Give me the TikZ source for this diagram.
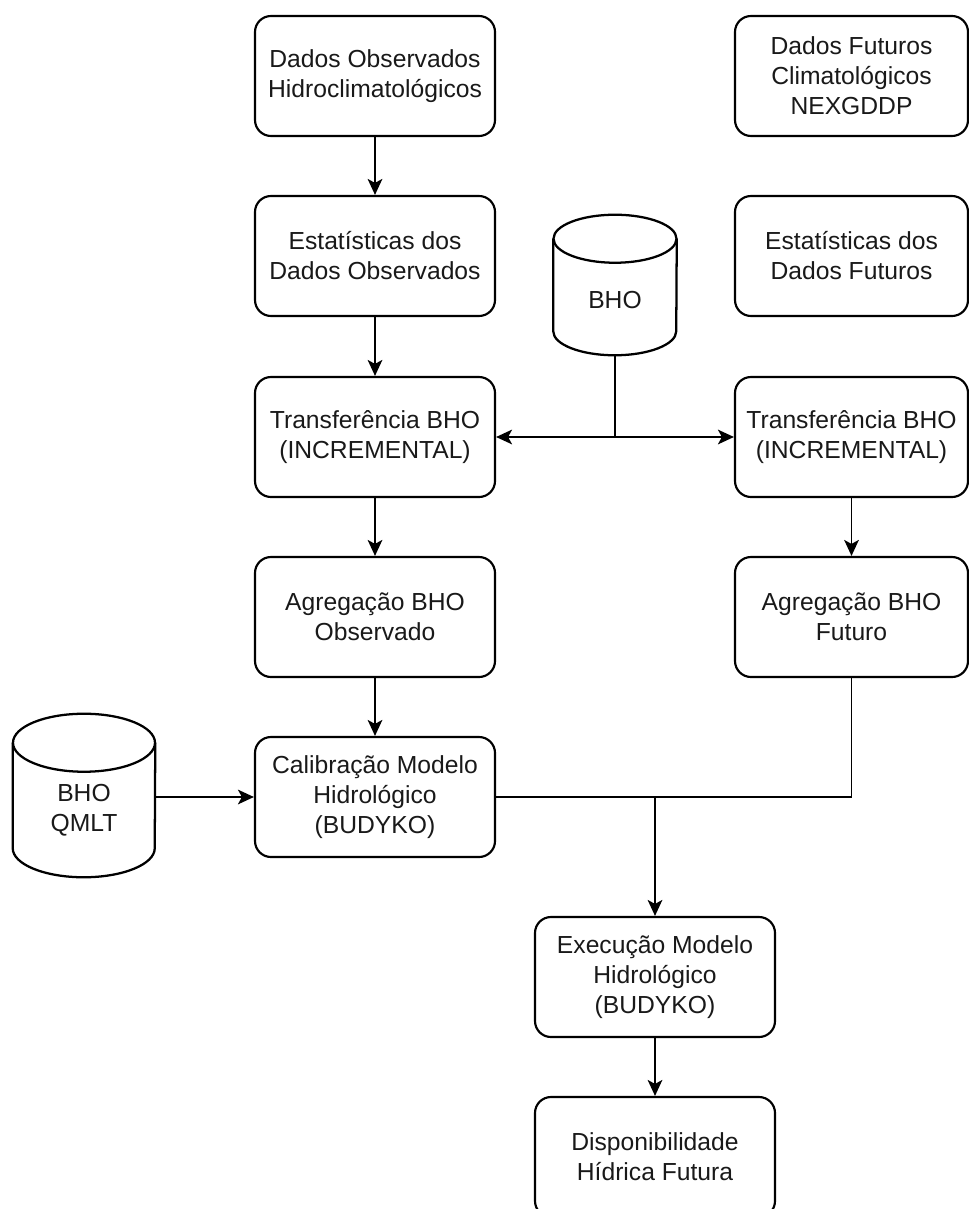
\documentclass[tikz,border=0pt]{standalone}
\usepackage{fontspec}
\setmainfont{Liberation Sans}
\usetikzlibrary{arrows.meta,calc,positioning}

\begin{document}
\begin{tikzpicture}[x=0.75pt,y=-0.75pt,>={Stealth[length=12pt,width=11pt,inset=3pt]},
    font=\fontsize{18.5}{22.5}\selectfont, text=black!90,
    proc/.style={draw=black, line width=1.6pt, rounded corners=12pt, align=center,
      minimum width=180pt, minimum height=90pt, inner sep=0pt},
    procr/.style={proc, minimum width=174.75pt},
    db/.style={minimum width=#1, inner sep=0pt},
    cyl/.style={draw=black, line width=1.7pt},
    conn/.style={line width=1.4pt}]
  \useasboundingbox (0,0) rectangle (969,1209);
  \clip (0,0) rectangle (969,1209);
  \node[proc] (obsdados) at (375,76) {Dados Observados\\Hidroclimatológicos};
  \node[procr] (futdados) at (851.5,76) {Dados Futuros\\Climatológicos\\NEXGDDP};
  \node[proc] (obsstat) at (375,256) {Estatísticas dos\\Dados Observados};
  \node[procr] (futstat) at (851.5,256) {Estatísticas dos\\Dados Futuros};
  \node[proc] (obstransf) at (375,437) {Transferência BHO\\(INCREMENTAL)};
  \node[procr] (futtransf) at (851.5,437) {Transferência BHO\\(INCREMENTAL)};
  \node[proc] (obsagreg) at (375,617) {Agregação BHO\\Observado};
  \node[procr] (futagreg) at (851.5,617) {Agregação BHO\\Futuro};
  \node[proc] (calib) at (375,797) {Calibração Modelo\\Hidrológico\\(BUDYKO)};
  \node[proc] (exec) at (655,977) {Execução Modelo\\Hidrológico\\(BUDYKO)};
  \node[proc] (disp) at (655,1157) {Disponibilidade\\Hídrica Futura};
  \node[db=92.25pt, minimum height=105pt, label={[yshift=-11pt]center:BHO}] (bho) at (615,285) {};
  \draw[cyl] ([yshift=-18pt]bho.north west) -- ([yshift=18pt]bho.south west)
    arc[start angle=180, end angle=360, x radius=46.125pt, y radius=18pt]
    -- ([yshift=-18pt]bho.north east);
  \draw[cyl] ([yshift=-18pt]bho.north) ellipse [x radius=46.125pt, y radius=18pt];
  \node[db=106.5pt, minimum height=122.25pt, label={[align=center,yshift=-11pt]center:BHO\\QMLT}] (qmlt) at (84,795.5) {};
  \draw[cyl] ([yshift=-21.75pt]qmlt.north west) -- ([yshift=21.75pt]qmlt.south west)
    arc[start angle=180, end angle=360, x radius=53.25pt, y radius=21.75pt]
    -- ([yshift=-21.75pt]qmlt.north east);
  \draw[cyl] ([yshift=-21.75pt]qmlt.north) ellipse [x radius=53.25pt, y radius=21.75pt];
  \draw[conn,->] (obsdados) -- (obsstat);
  \draw[conn,->] (obsstat) -- (obstransf);
  \draw[conn,->] (obstransf) -- (obsagreg);
  \draw[conn,->] (obsagreg) -- (calib);
  \draw[conn,->] (futtransf) -- (futagreg);
  \coordinate (split) at (bho.south |- obstransf.east);
  \draw[conn] (bho.south) -- (split);
  \draw[conn,->] (split) -- (obstransf.east);
  \draw[conn,->] (split) -- (futtransf.west);
  \draw[conn,->] (qmlt.east |- calib.west) -- (calib.west);
  \draw[conn,->] (calib.east) -| (exec.north);
  \draw[conn] (futagreg.south) |- (exec.north |- calib.east);
  \draw[conn,->] (exec) -- (disp);
\end{tikzpicture}
\end{document}
